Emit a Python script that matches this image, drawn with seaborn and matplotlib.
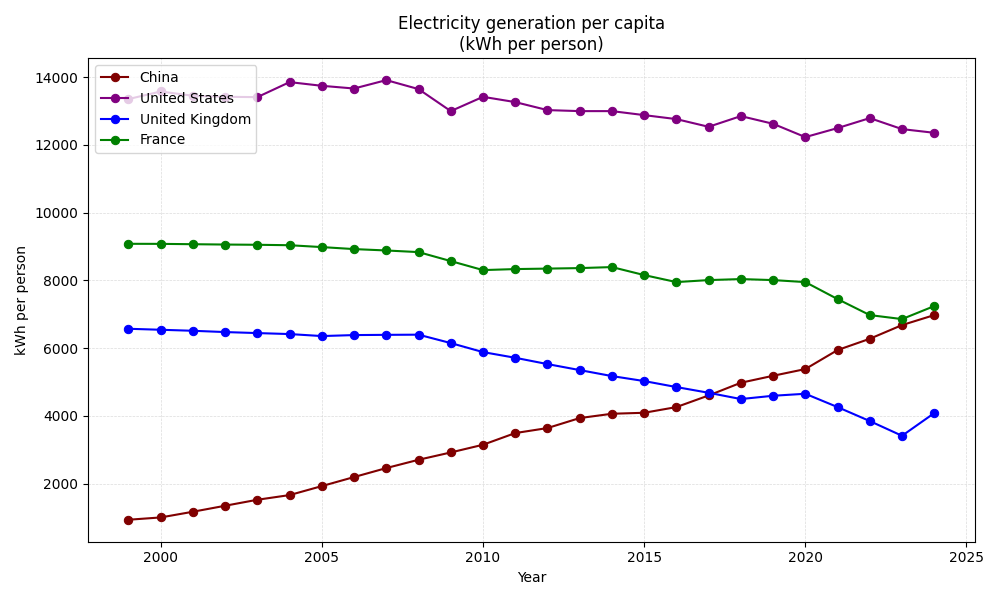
import pandas as pd
import seaborn as sns
import matplotlib.pyplot as plt


# data (kWh per person)
years = list(range(1999, 2025))

china = [938, 1006, 1174, 1351, 1528, 1666, 1931, 2198, 2463, 2708, 2924, 3151, 3496,
         3644, 3939, 4066, 4095, 4263, 4606, 4981, 5187, 5385, 5946, 6279, 6683, 6978]
united_states = [13353, 13577, 13450, 13420, 13411, 13854, 13745, 13665, 13913, 13648, 12998, 13420, 13264,
                 13028, 12998, 12998, 12880, 12762, 12535, 12851, 12624, 12231, 12497, 12792, 12467, 12358]
united_kingdom = [6574, 6545, 6515, 6477, 6447, 6418, 6359, 6388, 6395, 6400, 6152, 5886, 5718,
                  5532, 5355, 5178, 5031, 4854, 4685, 4500, 4597, 4656, 4263, 3850, 3416, 4086]
france = [9082, 9080, 9070, 9060, 9053, 9040, 8985, 8926, 8885, 8837, 8572, 8306, 8336,
          8350, 8365, 8395, 8159, 7952, 8011, 8041, 8011, 7952, 7451, 6978, 6860, 7244]

countries = ["China", "United States", "United Kingdom", "France"]
series = [china, united_states, united_kingdom, france]
colors = {"China": "maroon", "United States": "purple", "United Kingdom": "blue", "France": "green"}

rows = []
for name, values in zip(countries, series):
    for y, v in zip(years, values):
        rows.append({"Year": y, "Country": name, "kWh": v})
df = pd.DataFrame(rows)


fig, ax = plt.subplots(figsize=(10, 6), dpi=100)

for name in countries:
    sns.lineplot(data=df[df["Country"] == name], x="Year", y="kWh", ax=ax,
                 color=colors[name], marker="o", markeredgecolor=colors[name],
                 markersize=6, linewidth=1.5, label=name)

ax.set_title("Electricity generation per capita\n(kWh per person)")
ax.set_xlabel("Year")
ax.set_ylabel("kWh per person")
ax.grid(True, linestyle="--", linewidth=0.5, color="lightgray", alpha=0.8)
ax.legend(loc="upper left")

plt.tight_layout()
plt.savefig("out.png")
